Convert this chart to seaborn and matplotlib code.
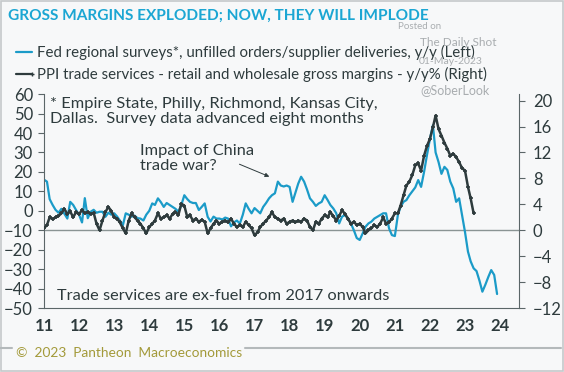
import pandas as pd
import matplotlib.pyplot as plt
import matplotlib.dates as mdates
from matplotlib.patches import Rectangle
from matplotlib.lines import Line2D
import seaborn as sns

# Fed regional surveys, unfilled orders / supplier deliveries, y/y (left axis), Jan 2011 - Dec 2023
fed_surveys = [
    16, 15, 6, 3, 0.5, -1, 1, -1.5, -4, 4.6, 3, 0.4,            # 2011
    -2, -6, 6.5, -3.8, -0.5, 0.5, -1, -0.5, -0.5, -3.1, -1, -2,   # 2012
    -1.3, -3, -5, -7.5, -1.3, -2, -3, -2.5, -3.8, -4, -5, -2,    # 2013
    0, 3.8, 3, 6.4, 4.5, 2, 4, 3, 2, 1, -0.5, 3,                 # 2014
    8, 6, 4.6, 4, 4, 0.4, 2, 3.8, -3.1, -5.5, -3, -4,            # 2015
    -4, -4.5, -3.5, -4, -8, -6, -5, -6.6, -2, 3.8, 1, -1.3,      # 2016
    1.4, 0, -1.3, 2, 4, 6.4, 8, 9, 15, 13, 12.5, 13,             # 2017
    12.3, 4.6, 9, 14, 17.5, 15, 11, 6.4, 4.6, 2.5, 3.8, 4.6,     # 2018
    8, 5.5, 3, 1.2, -1.2, -6.5, -3, -2.2, -4, -6.5, -10, -14,    # 2019
    -15, -11.6, -8.2, -6.5, -5.6, -4, -3.1, -2.2, -1.3, -1.3, -9, -12.5,  # 2020
    -13, -2.2, 2, 4.6, 5.5, 8, 10, 12, 15.8, 12.3, 20, 28.6,     # 2021
    37, 44, 30, 25, 19, 22.6, 21, 15, 11.5, 4.6, 6.4, -2,        # 2022
    -10.9, -21, -26, -29.6, -31, -36, -41.6, -38, -34, -30.5, -33, -42.8,  # 2023
]

# PPI trade services gross margins, y/y% (right axis), Jan 2011 - Apr 2023
ppi_margins = [
    0.3, 0.8, 2.0, 1.7, 2.0, 2.2, 2.6, 3.3, 2.5, 2.9, 2.0, 2.8,  # 2011
    2.5, 3.1, 2.6, 2.8, 2.5, 2.7, 1.0, 0.0, 1.5, 2.8, 3.6, 3.0,  # 2012
    2.0, 1.8, 1.2, 0.3, -0.5, 1.5, 2.6, 2.0, 1.5, 1.0, 0.3, -0.5,  # 2013
    0.5, 1.0, 1.5, 2.6, 1.8, 2.0, 2.3, 1.8, 2.5, 2.8, 2.4, 4.1,  # 2014
    3.8, 2.0, 2.3, 1.5, 1.8, 1.3, 1.6, 1.3, -0.5, 0.3, 1.0, 1.5,  # 2015
    1.0, 1.3, 1.5, 1.2, 1.8, 1.0, 0.5, 0.8, 0.5, 1.3, 0.8, 0.3,  # 2016
    -0.8, -0.3, 0.5, 1.0, 1.5, 2.0, 2.8, 2.0, 1.8, 1.5, 1.8, 1.0,  # 2017
    1.3, 1.5, 1.2, 1.5, 1.3, 1.8, 1.5, 0.5, 0.0, 1.3, 1.0, 1.8,  # 2018
    2.3, 2.0, 2.8, 2.2, 1.5, 2.2, 3.1, 2.5, 1.8, 1.0, 1.3, 0.8,  # 2019
    1.0, 0.5, -0.5, 0.0, 0.3, 0.8, 0.5, 1.0, 2.0, 1.0, 1.2, 1.8,  # 2020
    2.6, 2.6, 3.8, 5.4, 6.9, 7.5, 8.5, 10.0, 10.3, 9.2, 11.5, 13.0,  # 2021
    14.1, 15.9, 17.7, 15.6, 14.6, 13.5, 12.6, 11.5, 11.8, 11.3, 10.5, 9.6,  # 2022
    9.2, 6.7, 4.9, 2.6,                                           # 2023
]

fed_dates = pd.date_range("2011-01-01", periods=len(fed_surveys), freq="MS")
ppi_dates = pd.date_range("2011-01-01", periods=len(ppi_margins), freq="MS")

left_ticks = list(range(-50, 61, 10))
right_ticks = list(range(-12, 21, 4))
year_ticks = pd.date_range("2011-01-01", "2024-01-01", freq="YS")

blue = "#1b9bc8"
dark = "#2e3b3d"
axis_col = "#5b6668"
bg = "#f7f8f9"

sns.set_theme(style="white")
plt.rcParams["font.family"] = ["Lato", "DejaVu Sans"]

fig = plt.figure(figsize=(5.64, 3.72), dpi=100, facecolor=bg)
ax = fig.add_axes([0.078, 0.172, 0.842, 0.575])
ax.set_facecolor(bg)
ax2 = ax.twinx()

sns.lineplot(x=fed_dates, y=fed_surveys, ax=ax, color=blue, linewidth=1.6)
sns.lineplot(x=ppi_dates, y=ppi_margins, ax=ax2, color=dark, linewidth=1.8,
             marker="+", markersize=3.5, markeredgewidth=1.2, markeredgecolor=dark)

ax.set_ylim(-50, 60)
ax2.set_ylim(-12, 21)
ax.set_xlim(pd.Timestamp("2011-01-01"), pd.Timestamp("2024-07-15"))
ax.axhline(-10, color="#8a9494", linewidth=1.0, zorder=0)

ax.set_yticks(left_ticks)
ax2.set_yticks(right_ticks)
ax.set_xticks(year_ticks)
ax.set_xticklabels([d.strftime("%y") for d in year_ticks])
ax.xaxis.set_minor_locator(mdates.MonthLocator(bymonth=[1, 3, 5, 7, 9, 11]))

for a in (ax, ax2):
    a.spines["top"].set_visible(False)
    for s in ("left", "right", "bottom"):
        a.spines[s].set_color(axis_col)
        a.spines[s].set_linewidth(0.8)
ax.spines["right"].set_visible(False)
ax2.spines["left"].set_visible(False)
ax2.spines["bottom"].set_visible(False)

ax.tick_params(axis="y", labelsize=12, colors=dark, length=4, width=0.8, pad=4, color=axis_col)
ax2.tick_params(axis="y", labelsize=12, colors=dark, length=4, width=0.8, pad=6, color=axis_col)
ax.tick_params(axis="x", which="major", labelsize=12, colors=dark, direction="in", length=4,
               width=0.8, pad=7, color=axis_col)
ax.tick_params(axis="x", which="minor", direction="in", length=2.5, width=0.7, color=axis_col)
for lbl in ax.get_xticklabels():
    lbl.set_fontweight("bold")
ax.set_xlabel("")
ax.set_ylabel("")
ax2.set_ylabel("")

# text inside the plot
ax.text(0.012, 0.988, "* Empire State, Philly, Richmond, Kansas City,\nDallas.  Survey data advanced eight months",
        transform=ax.transAxes, fontsize=11.8, color=dark, va="top", linespacing=1.15)
ax.text(0.203, 0.768, "Impact of China\ntrade war?", transform=ax.transAxes, fontsize=11.8,
        color=dark, va="top", linespacing=1.15)
ax.annotate("", xy=(pd.Timestamp("2017-07-01"), 17), xytext=(pd.Timestamp("2016-07-01"), 24.5),
            arrowprops=dict(arrowstyle="-|>", color=dark, lw=0.7, mutation_scale=6))
ax.text(0.028, 0.025, "Trade services are ex-fuel from 2017 onwards", transform=ax.transAxes,
        fontsize=11.8, color=dark, va="bottom")

# title and legend
fig.text(0.014, 0.958, "GROSS MARGINS EXPLODED; NOW, THEY WILL IMPLODE", fontsize=11.1,
         fontweight="bold", color="#1ba6d3", va="center")
fig.add_artist(Line2D([0.028, 0.057], [0.86, 0.86], color=blue, linewidth=1.6))
fig.text(0.065, 0.86, "Fed regional surveys*, unfilled orders/supplier deliveries, y/y (Left)",
         fontsize=10.8, color=dark, va="center")
fig.add_artist(Line2D([0.028, 0.057], [0.80, 0.80], color=dark, linewidth=1.6,
                      marker="+", markersize=3, markevery=[1]))
fig.text(0.065, 0.80, "PPI trade services - retail and wholesale gross margins - y/y% (Right)",
         fontsize=10.8, color=dark, va="center")

# watermark
wm = "#a9adb0"
fig.text(0.705, 0.928, "Posted on", fontsize=7, color=wm, va="center")
fig.text(0.745, 0.886, "The Daily Shot", fontsize=8.5, color=wm, va="center")
fig.text(0.742, 0.836, "01-May-2023", fontsize=7.5, color=wm, va="center")
fig.text(0.745, 0.758, "@SoberLook", fontsize=9, color=wm, va="center")

# footer
fig.add_artist(Line2D([0.0, 0.022], [0.065, 0.065], color="#b4b9bb", linewidth=1.5))
fig.add_artist(Line2D([0.435, 0.995], [0.065, 0.065], color="#b4b9bb", linewidth=1.5))
fig.text(0.028, 0.051, "©  2023  Pantheon  Macroeconomics", fontsize=9.9, color="#a39a3a", va="center")
fig.add_artist(Rectangle((0.001, 0.002), 0.997, 0.995, transform=fig.transFigure,
                         fill=False, edgecolor="#c5c9cb", linewidth=1.2))

fig.savefig("out.png", dpi=100, facecolor=bg)
